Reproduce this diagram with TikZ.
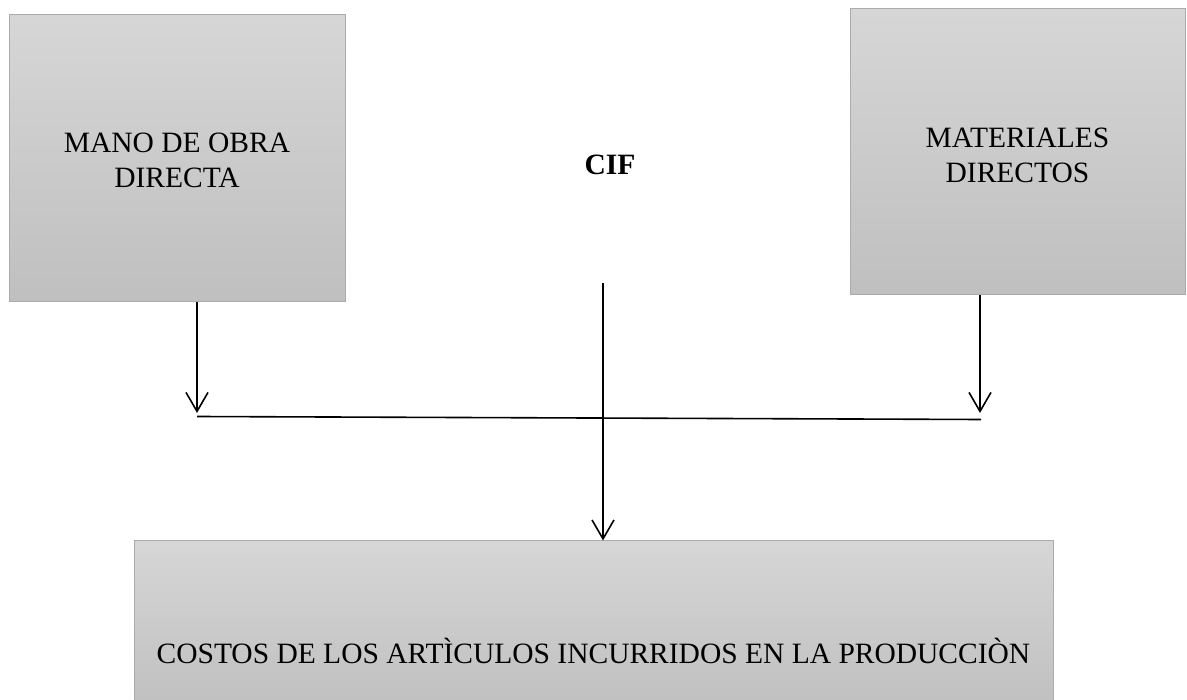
\documentclass[tikz,border=0pt]{standalone}
\usepackage{fontspec}
\setmainfont{Liberation Serif}
\usetikzlibrary{arrows.meta}
\tikzset{
  box/.style={shade, top color=black!16, bottom color=black!25, draw=black!33, line width=1pt, inner sep=0pt},
  lbl/.style={font=\fontsize{29.5}{35}\selectfont, align=center, text=black},
  conn/.style={line width=1.6pt, black},
  arr/.style={conn, -{Straight Barb[length=19pt, width=22pt, line width=1.6pt]}},
}
\begin{document}
\begin{tikzpicture}[x=1pt, y=-1pt]
\clip (0,0) rectangle (1187,700);
\fill[white] (0,0) rectangle (1187,700);
% boxes
\node[box, minimum width=336pt, minimum height=287pt] (mano) at (177,158.5) {};
\node[lbl] (manotxt) at (177,160) {MANO DE OBRA\\DIRECTA};
\node[box, minimum width=335pt, minimum height=286pt] (mat) at (1017.5,152) {};
\node[lbl] (mattxt) at (1017.5,155) {MATERIALES\\DIRECTOS};
\node[box, minimum width=919pt, minimum height=170pt] (costos) at (593.5,626) {};
\node[lbl] (costostxt) at (593.5,651) {COSTOS DE LOS ARTÌCULOS INCURRIDOS EN LA PRODUCCIÒN};
\node[lbl, font=\fontsize{29.5}{35}\selectfont\bfseries] (cif) at (610,165) {CIF};
% connectors
\coordinate (lend) at (197,413);
\coordinate (rend) at (980,413);
\coordinate (hl) at (197,416.5);
\coordinate (hr) at (981,419.5);
\coordinate (ctop) at (603,283);
\draw[arr] (mano.south -| lend) -- (lend);
\draw[arr] (mat.south -| rend) -- (rend);
\draw[conn] (hl) -- (hr);
\draw[arr] (ctop) -- (ctop |- costos.north);
\end{tikzpicture}
\end{document}
